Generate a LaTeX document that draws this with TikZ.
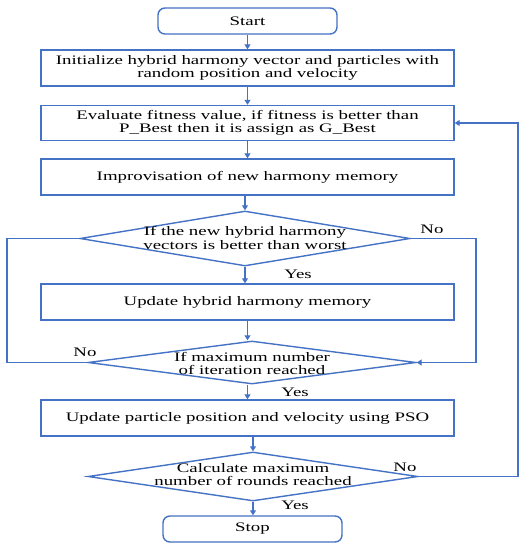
\documentclass[tikz,border=0pt]{standalone}
\usepackage{fontspec}
\setmainfont{Liberation Serif}[FakeStretch=1.45]
\usetikzlibrary{shapes.geometric,arrows.meta}
\definecolor{fblue}{RGB}{68,114,196}
\begin{document}
\begin{tikzpicture}[x=1pt,y=1pt,
  every node/.style={font=\fontsize{13}{13.5}\selectfont, text=black, align=center},
  procbox/.style={draw=fblue, line width=1.4pt, minimum width=413pt, minimum height=36pt, inner sep=0pt},
  termbox/.style={draw=fblue, line width=1.4pt, rounded corners=7pt, minimum width=179pt, minimum height=26pt, inner sep=0pt},
  decbox/.style={draw=fblue, line width=1.4pt, diamond, inner sep=0pt},
  flow/.style={draw=fblue, line width=1.2pt, -{Triangle[width=6pt,length=5pt]}},
  loopline/.style={draw=fblue, line width=1.2pt},
  lbl/.style={font=\fontsize{13}{13.5}\selectfont}]
\useasboundingbox (0,0) rectangle (528,-550);
\node[termbox] (start) at (247.5,-21) {Start};
\node[procbox] (b1) at (247.5,-68) {Initialize hybrid harmony vector and particles with\\random position and velocity};
\node[procbox, minimum height=35pt] (b2) at (247.5,-123) {Evaluate fitness value, if fitness is better than\\P\_Best then it is assign as G\_Best};
\node[procbox] (b3) at (247.5,-177) {Improvisation of new harmony memory};
\node[decbox, minimum width=330pt, minimum height=55pt] (d1) at (245,-238.5) {};
\node at (245,-238) {If the new hybrid harmony\\vectors is better than worst};
\node[procbox] (b4) at (247.5,-302) {Update hybrid harmony memory};
\node[decbox, minimum width=328pt, minimum height=43pt] (d2) at (252,-362.5) {};
\node at (252,-363.5) {If maximum number\\of iteration reached};
\node[procbox] (b5) at (247.5,-418) {Update particle position and velocity using PSO};
\node[decbox, minimum width=330pt, minimum height=49pt] (d3) at (253,-476.5) {};
\node at (253,-474.5) {Calculate maximum\\number of rounds reached};
\node[termbox] (stop) at (252.5,-529) {Stop};

\draw[flow] (start) -- (b1);
\draw[flow] (b1) -- (b2);
\draw[flow] (b2) -- (b3);
\draw[flow] (b3.south -| d1.north) -- (d1.north);
\draw[flow] (d1.south) -- (d1.south |- b4.north);
\draw[flow] (b4.south) -- (b4.south |- d2.north);
\draw[flow] (d2.south -| b5.north) -- (b5.north);
\draw[flow] (b5.south -| d3.north) -- (d3.north);
\draw[flow] (d3.south) -- (d3.south |- stop.north);

\coordinate (l1) at (7,-238.5);
\coordinate (l2) at (7,-362.5);
\draw[loopline] (d2.west) -- (l2) -- (l1) -- (d1.west);
\coordinate (r1) at (476,-238.5);
\coordinate (r2) at (476,-362.5);
\draw[flow] (d1.east) -- (r1) -- (r2) -- (d2.east);
\coordinate (f1) at (518,-476.5);
\coordinate (f2) at (518,-123);
\draw[flow] (d3.east) -- (f1) -- (f2) -- (b2.east);

\node[lbl] (no1) at (432,-229) {No};
\node[lbl] (yes1) at (298,-274) {Yes};
\node[lbl] (no2) at (85,-352) {No};
\node[lbl] (yes2) at (295,-392) {Yes};
\node[lbl] (no3) at (405,-467) {No};
\node[lbl] (yes3) at (295,-505) {Yes};
\end{tikzpicture}
\end{document}
